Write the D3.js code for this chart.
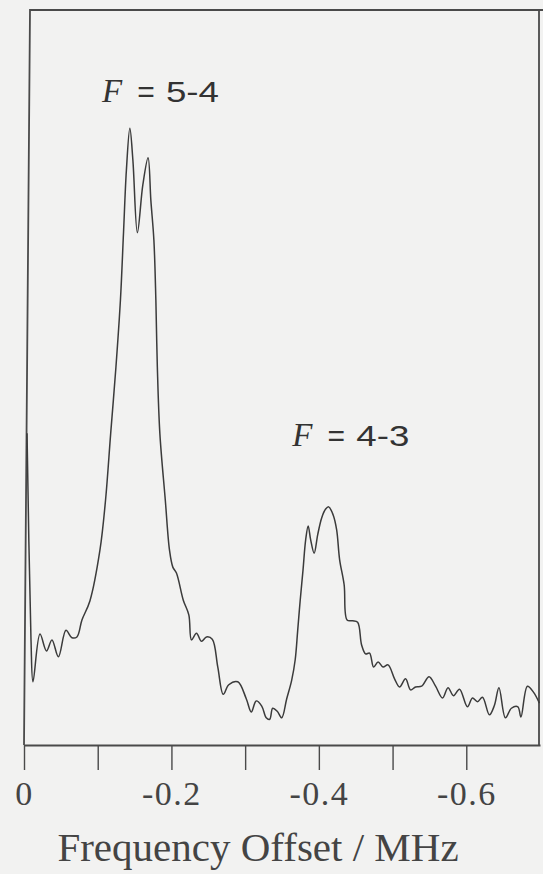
<!DOCTYPE html>
<html>
<head>
<meta charset="utf-8">
<script src="https://cdn.jsdelivr.net/npm/d3@7"></script>
<style>
  html, body { margin: 0; padding: 0; background: #f2f2f1; }
  svg { display: block; }
</style>
</head>
<body>
<svg id="chart" width="543" height="874"></svg>
<script>
// ---- data ----
const freq = [
  -0.0041, -0.0095, -0.0122, -0.0217, -0.0305, -0.0379, -0.0467, -0.0569, -0.0650, -0.0718,
  -0.0786, -0.0894, -0.1030, -0.1106, -0.1176, -0.1247, -0.1308, -0.1350, -0.1389, -0.1436,
  -0.1477, -0.1538, -0.1612, -0.1683, -0.1721, -0.1762, -0.1789, -0.1809, -0.1843, -0.1917,
  -0.1974, -0.2019, -0.2068, -0.2161, -0.2236, -0.2272, -0.2340, -0.2408, -0.2476, -0.2554,
  -0.2629, -0.2703, -0.2778, -0.2900, -0.3015, -0.3083, -0.3150, -0.3225, -0.3286, -0.3333,
  -0.3374, -0.3435, -0.3496, -0.3564, -0.3631, -0.3679, -0.3713, -0.3747, -0.3785, -0.3821,
  -0.3855, -0.3889, -0.3936, -0.3984, -0.4038, -0.4092, -0.4133, -0.4194, -0.4241, -0.4282,
  -0.4343, -0.4383, -0.4458, -0.4526, -0.4580, -0.4634, -0.4688, -0.4743, -0.4804, -0.4871,
  -0.4939, -0.5027, -0.5095, -0.5176, -0.5244, -0.5312, -0.5393, -0.5495, -0.5583, -0.5678,
  -0.5752, -0.5827, -0.5908, -0.6016, -0.6084, -0.6152, -0.6220, -0.6314, -0.6382, -0.6443,
  -0.6531, -0.6612, -0.6700, -0.6741, -0.6829, -0.6911, -0.6992
];
const intensity = [
  42.4, 14.3, 8.6, 15.1, 12.8, 14.3, 12.0, 15.6, 14.6, 14.7,
  17.0, 19.6, 26.5, 33.3, 42.4, 51.4, 60.5, 69.7, 78.2, 83.9,
  79.6, 69.7, 76.2, 79.9, 74.1, 68.7, 60.5, 51.4, 42.4, 33.3,
  26.5, 24.2, 23.4, 19.7, 17.7, 14.3, 15.2, 14.1, 14.7, 14.4,
  10.6, 6.9, 8.2, 8.6, 6.3, 4.5, 6.0, 5.3, 3.7, 3.5,
  5.0, 4.6, 3.7, 6.3, 8.8, 11.6, 15.6, 19.7, 23.8, 27.9,
  29.8, 27.9, 26.1, 28.6, 30.9, 32.1, 32.4, 31.3, 29.3, 25.2,
  21.8, 17.0, 16.9, 16.7, 13.6, 12.4, 12.5, 10.6, 11.3, 10.6,
  10.9, 9.0, 7.9, 9.0, 7.5, 7.9, 8.0, 9.3, 8.0, 6.4,
  7.8, 6.7, 7.6, 5.2, 6.4, 5.9, 6.5, 4.1, 5.4, 7.8,
  3.7, 5.0, 5.2, 3.8, 8.0, 7.2, 5.7
];
const tickValues = [0, -0.1, -0.2, -0.3, -0.4, -0.5, -0.6];
const tickLabels = ["0", "", "-0.2", "", "-0.4", "", "-0.6"];
const peakNames = ["5-4", "4-3"];
const xTitle = "Frequency Offset / MHz";

// ---- layout ----
const svg = d3.select("#chart");
const mLeft = 24, mRight = 540, mTop = 10, mBottom = 745;
const ink = "#3b3b3b";

const x = d3.scaleLinear().domain([0, -0.7]).range([mLeft, mRight]);
const y = d3.scaleLinear().domain([0, 100]).range([mBottom, mTop]);

// frame (scan is slightly skewed on the left edge)
svg.append("path")
  .attr("d", `M${mLeft},${mBottom} L${mLeft + 6},${mTop} L543,${mTop} M${mRight - 1},${mTop} L${mRight - 1},${mBottom}`)
  .attr("fill", "none").attr("stroke", "#4a4a4a").attr("stroke-width", 1.8);

// x axis
const axis = d3.axisBottom(x)
  .tickValues(tickValues)
  .tickSizeInner(25).tickSizeOuter(0).tickPadding(11)
  .tickFormat((d, i) => tickLabels[i]);
const gx = svg.append("g").attr("transform", `translate(0,${mBottom})`).call(axis);
gx.select(".domain").attr("stroke", "#4a4a4a").attr("stroke-width", 1.8);
gx.selectAll(".tick line").attr("stroke", "#4a4a4a").attr("stroke-width", 1.4);
gx.selectAll(".tick text")
  .attr("fill", "#444")
  .style("font-family", "'Liberation Serif', 'Times New Roman', serif")
  .style("font-size", "34px")
  .style("letter-spacing", "1.5px");

// spectrum trace
const pts = freq.map((f, i) => [f, intensity[i]]);
svg.append("path")
  .datum(pts)
  .attr("fill", "none")
  .attr("stroke", ink)
  .attr("stroke-width", 1.5)
  .attr("stroke-linejoin", "round")
  .attr("d", d3.line().x(d => x(d[0])).y(d => y(d[1])).curve(d3.curveCatmullRom.alpha(0.5)));

// peak labels
function peakLabel(name, fx, baseY) {
  const g = svg.append("g");
  const px = x(fx);
  g.append("text").attr("x", px).attr("y", baseY)
    .attr("fill", "#333")
    .style("font-family", "'Liberation Serif', serif").style("font-style", "italic")
    .style("font-size", "33px").text("F");
  g.append("text").attr("x", px + 44).attr("y", baseY)
    .attr("text-anchor", "middle").attr("fill", "#333")
    .style("font-family", "'Liberation Sans', sans-serif").style("font-size", "30px").text("=");
  g.append("text").attr("x", px + 64).attr("y", baseY)
    .attr("fill", "#333")
    .attr("textLength", 53).attr("lengthAdjust", "spacingAndGlyphs")
    .style("font-family", "'Liberation Sans', sans-serif").style("font-size", "30px").text(name);
}
peakLabel(peakNames[0], -0.1057, 102);
peakLabel(peakNames[1], -0.3640, 446);

// axis title
svg.append("text")
  .attr("x", 258).attr("y", 861)
  .attr("text-anchor", "middle").attr("fill", "#444")
  .style("font-family", "'Liberation Serif', 'Times New Roman', serif")
  .style("font-size", "41px")
  .text(xTitle);
</script>
</body>
</html>
